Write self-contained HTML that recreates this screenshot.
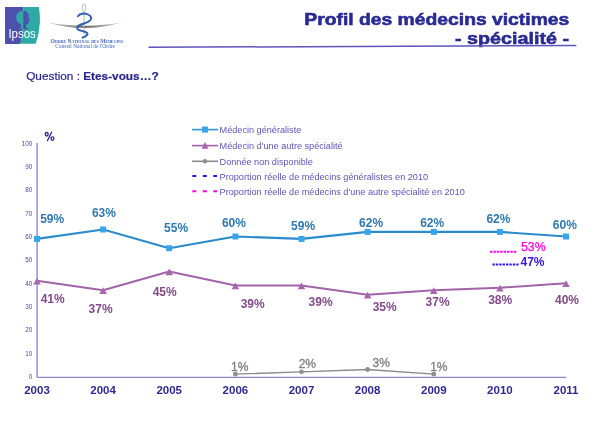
<!DOCTYPE html>
<html><head><meta charset="utf-8"><style>
html,body{margin:0;padding:0;background:#fff;width:600px;height:430px;overflow:hidden}
svg{display:block;will-change:transform}
text{font-family:"Liberation Sans",sans-serif}
.yt{font-size:6.3px;fill:#4e44ad}
.pct{font-size:12.5px;font-weight:bold;fill:#2e2a92}
.lb{font-size:12px;font-weight:bold}
.lg{font-size:12px;stroke:#7f7f7f;stroke-width:0.3px}
.lp{font-size:12.3px;stroke:#ff00e6;stroke-width:0.25px}
.yr{font-size:11.5px;font-weight:bold;fill:#2e2a92}
.lt{font-size:9.15px;fill:#5e56b4}
.t1{font-size:17px;font-weight:bold;fill:#2a2a94;stroke:#2a2a94;stroke-width:0.6px}
.q{font-size:11.8px;fill:#28248e;stroke:#28248e;stroke-width:0.2px}
</style></head><body>
<svg width="600" height="430" viewBox="0 0 600 430">

<g>
<path d="M5,7 H23.3 L22.4,36 Q21.5,41 19.8,44 H5 Z" fill="#4d50ad"/>
<path d="M23.3,7 H38.4 Q39,7 39.1,8 Q40.2,16 39.9,22 Q39.5,33 35.8,43.8 H19.8 Q21.5,41 22.4,36 Z" fill="#2eaaa6"/>
<path d="M23.3,10.8 C19.8,10.8 16.3,13 16.3,17.5 C16.3,21 18.5,23.5 21,24 L21.3,27.5 C20.3,28 19.3,28.3 18.9,28.8 L23.3,28.8 Z" fill="#2eaaa6"/>
<path d="M23.3,10.8 C26.3,10.8 28.5,12.8 28.7,16 C28.8,17.5 29.2,18.8 29.9,20 L28.9,20.5 C29.1,21.5 28.9,22.3 28.5,22.8 C28.3,23.8 27.5,24.3 26.2,24.3 L26,27.6 C27,28 28,28.4 28.7,28.9 L23.3,29.4 Z" fill="#4d50ad"/>
<ellipse cx="27.1" cy="18.4" rx="0.8" ry="0.5" fill="#2eaaa6"/>
<text x="8.4" y="37.5" font-size="12.4px" fill="#fff" textLength="27.4" lengthAdjust="spacingAndGlyphs">Ipsos</text>
</g>
<g>
<defs><linearGradient id="sw" x1="0" x2="1" y1="0" y2="0">
<stop offset="0" stop-color="#dcdcdc"/><stop offset="0.5" stop-color="#6e6e6e"/><stop offset="1" stop-color="#dcdcdc"/></linearGradient></defs>
<path d="M45.7,22 Q84.5,34 123.3,22 Q84.5,29.6 45.7,22 Z" fill="url(#sw)"/>
<ellipse cx="84" cy="7.7" rx="1.9" ry="3.8" fill="none" stroke="#b4b4b4" stroke-width="0.9"/>
<line x1="84" y1="11.5" x2="84" y2="34.5" stroke="#b4b4b4" stroke-width="1"/>
<path d="M77.9,16.3 C79.5,13.5 84,12.8 88,14.5 C92.5,16.5 92,20 87.5,22.2 C82,24.5 76.5,25 77.2,28.5 C77.8,31 84.5,30.5 87.2,33 C88.5,34.5 85.5,36.5 82.6,37.7" fill="none" stroke="#2c5fb2" stroke-width="1.9" stroke-linecap="round"/>
<text x="50.6" y="43.3" font-size="5.6px" fill="#3d64b8" font-weight="bold" textLength="72.6" lengthAdjust="spacingAndGlyphs" style="font-family:'Liberation Serif',serif;font-variant:small-caps">Ordre National des Médecins</text>
<text x="55.2" y="47.5" font-size="5.2px" fill="#3d64b8" textLength="59.8" lengthAdjust="spacingAndGlyphs" style="font-family:'Liberation Serif',serif">Conseil National de l'Ordre</text>
</g>
<text x="304.3" y="24.7" class="t1" textLength="265" lengthAdjust="spacingAndGlyphs">Profil des médecins victimes</text>
<text x="455" y="43.6" class="t1" textLength="114" lengthAdjust="spacingAndGlyphs">- spécialité -</text>
<line x1="148.5" y1="47.3" x2="576.3" y2="45.6" stroke="#5d55bc" stroke-width="1.5"/>
<text x="26.2" y="79.8" class="q">Question : <tspan font-weight="bold">Etes-vous…?</tspan></text>
<line x1="37.1" y1="143" x2="37.1" y2="377.4" stroke="#a098d8" stroke-width="1.6"/>
<line x1="37" y1="377.4" x2="566" y2="377.4" stroke="#8e86cc" stroke-width="1.2"/>
<text x="32.3" y="378.8" text-anchor="end" class="yt">0</text>
<text x="32.3" y="355.5" text-anchor="end" class="yt">10</text>
<text x="32.3" y="332.1" text-anchor="end" class="yt">20</text>
<text x="32.3" y="308.8" text-anchor="end" class="yt">30</text>
<text x="32.3" y="285.5" text-anchor="end" class="yt">40</text>
<text x="32.3" y="262.2" text-anchor="end" class="yt">50</text>
<text x="32.3" y="238.8" text-anchor="end" class="yt">60</text>
<text x="32.3" y="215.5" text-anchor="end" class="yt">70</text>
<text x="32.3" y="192.2" text-anchor="end" class="yt">80</text>
<text x="32.3" y="168.8" text-anchor="end" class="yt">90</text>
<text x="32.3" y="145.5" text-anchor="end" class="yt">100</text>
<g fill="none" stroke="#2e2a92" stroke-width="1.35"><ellipse cx="46.7" cy="134.2" rx="1.45" ry="1.75"/><ellipse cx="52.4" cy="138.6" rx="1.45" ry="1.75"/><line x1="51.6" y1="132.2" x2="47.4" y2="140.7" stroke-linecap="round"/></g>
<polyline points="37.0,238.9 103.1,229.5 169.2,248.2 235.4,236.5 301.5,238.9 367.6,231.9 433.8,231.9 499.9,231.9 566.0,236.5" fill="none" stroke="#2b8ccb" stroke-width="2.1" stroke-linejoin="round"/>
<rect x="34.0" y="235.9" width="6" height="6" fill="#3aa4ea"/>
<rect x="100.1" y="226.5" width="6" height="6" fill="#3aa4ea"/>
<rect x="166.2" y="245.2" width="6" height="6" fill="#3aa4ea"/>
<rect x="232.4" y="233.5" width="6" height="6" fill="#3aa4ea"/>
<rect x="298.5" y="235.9" width="6" height="6" fill="#3aa4ea"/>
<rect x="364.6" y="228.9" width="6" height="6" fill="#3aa4ea"/>
<rect x="430.8" y="228.9" width="6" height="6" fill="#3aa4ea"/>
<rect x="496.9" y="228.9" width="6" height="6" fill="#3aa4ea"/>
<rect x="563.0" y="233.5" width="6" height="6" fill="#3aa4ea"/>
<polyline points="37.0,280.8 103.1,290.2 169.2,271.5 235.4,285.5 301.5,285.5 367.6,294.8 433.8,290.2 499.9,287.8 566.0,283.2" fill="none" stroke="#a363a9" stroke-width="2.0" stroke-linejoin="round"/>
<polygon points="37.0,277.8 40.8,284.6 33.2,284.6" fill="#a866ac"/>
<polygon points="103.1,287.2 106.9,294.0 99.3,294.0" fill="#a866ac"/>
<polygon points="169.2,268.5 173.1,275.3 165.4,275.3" fill="#a866ac"/>
<polygon points="235.4,282.5 239.2,289.3 231.6,289.3" fill="#a866ac"/>
<polygon points="301.5,282.5 305.3,289.3 297.7,289.3" fill="#a866ac"/>
<polygon points="367.6,291.8 371.4,298.6 363.8,298.6" fill="#a866ac"/>
<polygon points="433.8,287.2 437.6,294.0 429.9,294.0" fill="#a866ac"/>
<polygon points="499.9,284.8 503.7,291.6 496.1,291.6" fill="#a866ac"/>
<polygon points="566.0,280.2 569.8,287.0 562.2,287.0" fill="#a866ac"/>
<polyline points="235.4,374.2 301.5,371.8 367.6,369.5 433.8,374.2" fill="none" stroke="#8a8a8a" stroke-width="1.3"/>
<circle cx="235.4" cy="374.2" r="2.4" fill="#8f8f8f"/>
<circle cx="301.5" cy="371.8" r="2.4" fill="#8f8f8f"/>
<circle cx="367.6" cy="369.5" r="2.4" fill="#8f8f8f"/>
<circle cx="433.8" cy="374.2" r="2.4" fill="#8f8f8f"/>
<text x="40.2" y="222.6" class="lb" fill="#2f78b0">59%</text>
<text x="91.9" y="217.3" class="lb" fill="#2f78b0">63%</text>
<text x="164.1" y="232.3" class="lb" fill="#2f78b0">55%</text>
<text x="221.9" y="226.9" class="lb" fill="#2f78b0">60%</text>
<text x="291.1" y="229.8" class="lb" fill="#2f78b0">59%</text>
<text x="359.1" y="226.9" class="lb" fill="#2f78b0">62%</text>
<text x="420.2" y="226.9" class="lb" fill="#2f78b0">62%</text>
<text x="486.4" y="223.3" class="lb" fill="#2f78b0">62%</text>
<text x="552.8" y="228.8" class="lb" fill="#2f78b0">60%</text>
<text x="40.7" y="303.1" class="lb" fill="#834a89">41%</text>
<text x="88.6" y="312.8" class="lb" fill="#834a89">37%</text>
<text x="152.7" y="296.1" class="lb" fill="#834a89">45%</text>
<text x="240.7" y="307.8" class="lb" fill="#834a89">39%</text>
<text x="308.6" y="306.1" class="lb" fill="#834a89">39%</text>
<text x="372.7" y="311.1" class="lb" fill="#834a89">35%</text>
<text x="425.6" y="306.1" class="lb" fill="#834a89">37%</text>
<text x="488.2" y="304.3" class="lb" fill="#834a89">38%</text>
<text x="555.0" y="304.3" class="lb" fill="#834a89">40%</text>
<text x="231.1" y="371.1" class="lg" fill="#7f7f7f">1%</text>
<text x="298.7" y="367.9" class="lg" fill="#7f7f7f">2%</text>
<text x="372.6" y="367.4" class="lg" fill="#7f7f7f">3%</text>
<text x="430.2" y="371.1" class="lg" fill="#7f7f7f">1%</text>
<text x="37.0" y="393.6" text-anchor="middle" class="yr">2003</text>
<text x="103.1" y="393.6" text-anchor="middle" class="yr">2004</text>
<text x="169.2" y="393.6" text-anchor="middle" class="yr">2005</text>
<text x="235.4" y="393.6" text-anchor="middle" class="yr">2006</text>
<text x="301.5" y="393.6" text-anchor="middle" class="yr">2007</text>
<text x="367.6" y="393.6" text-anchor="middle" class="yr">2008</text>
<text x="433.8" y="393.6" text-anchor="middle" class="yr">2009</text>
<text x="499.9" y="393.6" text-anchor="middle" class="yr">2010</text>
<text x="566.0" y="393.6" text-anchor="middle" class="yr">2011</text>
<line x1="490" y1="251.7" x2="517" y2="251.7" stroke="#ff00e6" stroke-width="2" stroke-dasharray="2.4 1"/>
<text x="521" y="251" class="lp" fill="#ff00e6">53%</text>
<line x1="492.4" y1="264.4" x2="519" y2="264.4" stroke="#3a14f0" stroke-width="2" stroke-dasharray="2.4 1"/>
<text x="520.5" y="265.7" class="lb" fill="#3a14e0">47%</text>
<line x1="192" y1="129.6" x2="218" y2="129.6" stroke="#3396d6" stroke-width="1.6"/>
<rect x="202" y="126.6" width="6" height="6" fill="#3aa4ea"/>
<text x="219.6" y="133.3" class="lt">Médecin généraliste</text>
<line x1="192" y1="145.6" x2="218" y2="145.6" stroke="#a561a9" stroke-width="1.6"/>
<polygon points="205,142.0 208.5,148.79999999999998 201.5,148.79999999999998" fill="#a866ac"/>
<text x="219.6" y="149.3" class="lt">Médecin d'une autre spécialité</text>
<line x1="192" y1="161.3" x2="218" y2="161.3" stroke="#8a8a8a" stroke-width="1.6"/>
<circle cx="205" cy="161.3" r="2.3" fill="#8f8f8f"/>
<text x="219.6" y="165.0" class="lt">Donnée non disponible</text>
<line x1="192.3" y1="176" x2="217" y2="176" stroke="#2218f0" stroke-width="2" stroke-dasharray="4 6.5"/>
<text x="219.6" y="179.7" class="lt">Proportion réelle de médecins généralistes en 2010</text>
<line x1="192.3" y1="191.3" x2="217" y2="191.3" stroke="#ff00e6" stroke-width="2" stroke-dasharray="4 6.5"/>
<text x="219.6" y="195.0" class="lt">Proportion réelle de médecins d'une autre spécialité en 2010</text>
</svg>
</body></html>
